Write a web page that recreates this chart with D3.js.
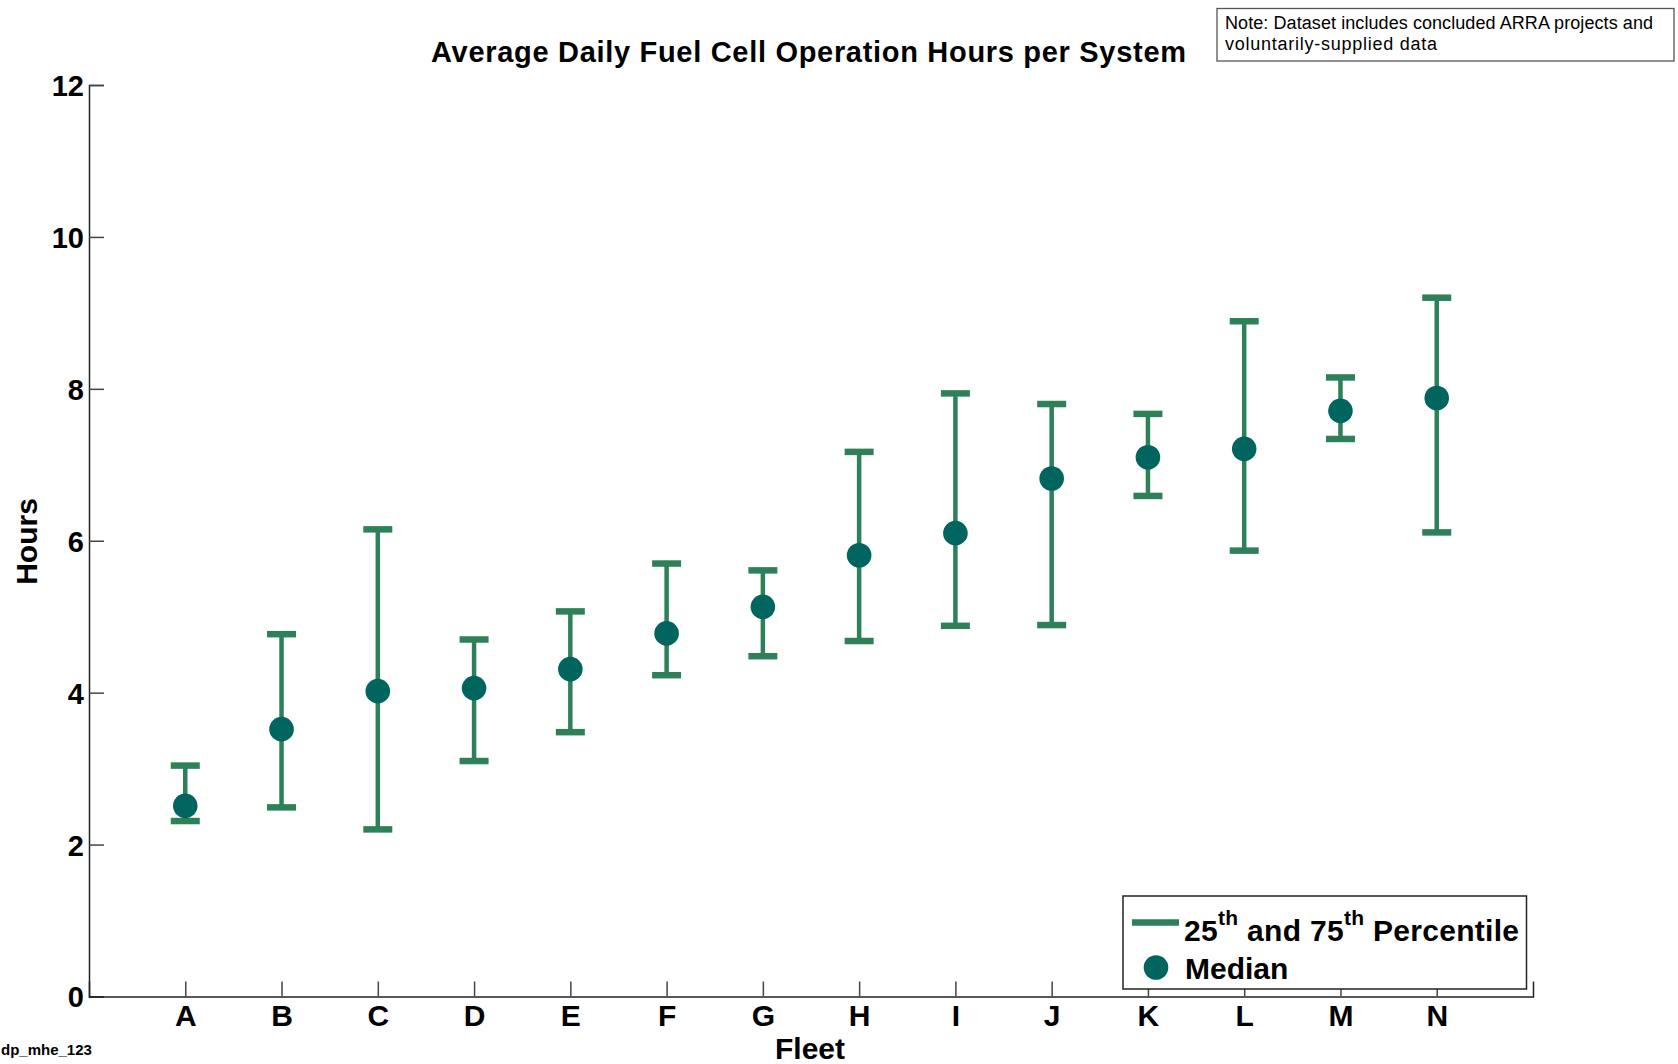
<!DOCTYPE html>
<html>
<head>
<meta charset="utf-8">
<script src="https://cdn.jsdelivr.net/npm/d3@7"></script>
<style>
  html, body { margin: 0; padding: 0; background: #fff; }
  svg { display: block; font-family: "Liberation Sans", Arial, sans-serif; }
</style>
</head>
<body>
<svg id="chart" width="1678" height="1064"></svg>
<script>
(function () {
  'use strict';

  // ── Data ──────────────────────────────────────────────────────────────────
  const fleets  = ['A', 'B', 'C', 'D', 'E', 'F', 'G', 'H', 'I', 'J', 'K', 'L', 'M', 'N'];
  const medians = [2.51, 3.52, 4.02, 4.06, 4.31, 4.78, 5.13, 5.81, 6.10, 6.82, 7.10, 7.21, 7.71, 7.88];
  const p25     = [2.31, 2.49, 2.20, 3.10, 3.48, 4.23, 4.48, 4.68, 4.88, 4.89, 6.59, 5.87, 7.34, 6.11];
  const p75     = [3.04, 4.77, 6.15, 4.70, 5.07, 5.70, 5.61, 7.17, 7.94, 7.80, 7.67, 8.89, 8.15, 9.20];
  const yTicks  = [0, 2, 4, 6, 8, 10, 12];

  const BAR = '#2e8058', DOT = '#00655f';

  const svg = d3.select('#chart');

  // ── Scales ────────────────────────────────────────────────────────────────
  const x = d3.scaleLinear().domain([0, fleets.length + 1]).range([89, 1533]);
  const y = d3.scaleLinear().domain([0, 12]).range([996.5, 85]);

  const rows = fleets.map((f, i) => ({ f, i: i + 1, med: medians[i], lo: p25[i], hi: p75[i] }));

  // ── Axes ──────────────────────────────────────────────────────────────────
  const yAxis = svg.append('g').attr('transform', `translate(${x(0)},0)`)
    .call(d3.axisLeft(y).tickValues(yTicks).tickSize(-15).tickPadding(5).tickFormat(d3.format('d')));
  const xAxis = svg.append('g').attr('transform', `translate(0,${y(0)})`)
    .call(d3.axisBottom(x).tickValues(rows.map(r => r.i)).tickSize(-15).tickPadding(8)
      .tickFormat(d => fleets[d - 1]));

  [yAxis, xAxis].forEach(a => {
    a.select('.domain').attr('stroke', '#222').attr('stroke-width', 1.5);
    a.selectAll('.tick line').attr('stroke', '#444').attr('stroke-width', 1.5);
    a.selectAll('.tick text').attr('fill', '#000').attr('font-size', 29)
      .attr('font-weight', 'bold').attr('font-family', '"Liberation Sans", Arial, sans-serif');
  });
  yAxis.selectAll('.tick text').attr('dy', '0.36em');
  xAxis.selectAll('.tick text').attr('dy', '0.72em').attr('font-size', 30);

  // ── Error bars ────────────────────────────────────────────────────────────
  const g = svg.append('g');
  const capW = 29;
  g.selectAll('line.stem').data(rows).join('line').attr('class', 'stem')
    .attr('x1', d => x(d.i)).attr('x2', d => x(d.i))
    .attr('y1', d => y(d.lo)).attr('y2', d => y(d.hi))
    .attr('stroke', BAR).attr('stroke-width', 4.5);
  ['lo', 'hi'].forEach(k => {
    g.selectAll('line.cap-' + k).data(rows).join('line').attr('class', 'cap-' + k)
      .attr('x1', d => x(d.i) - capW / 2).attr('x2', d => x(d.i) + capW / 2)
      .attr('y1', d => y(d[k])).attr('y2', d => y(d[k]))
      .attr('stroke', BAR).attr('stroke-width', 6.5);
  });
  g.selectAll('circle').data(rows).join('circle')
    .attr('cx', d => x(d.i)).attr('cy', d => y(d.med)).attr('r', 12.3)
    .attr('fill', DOT);

  // ── Titles ────────────────────────────────────────────────────────────────
  svg.append('text').attr('x', 808.5).attr('y', 61.5).attr('text-anchor', 'middle')
    .attr('font-size', 29).attr('font-weight', 'bold')
    .attr('textLength', 755).attr('lengthAdjust', 'spacing')
    .text('Average Daily Fuel Cell Operation Hours per System');

  svg.append('text').attr('transform', 'translate(36.5,541.5) rotate(-90)')
    .attr('text-anchor', 'middle').attr('font-size', 30).attr('font-weight', 'bold')
    .text('Hours');

  svg.append('text').attr('x', 810).attr('y', 1059).attr('text-anchor', 'middle')
    .attr('font-size', 30).attr('font-weight', 'bold').text('Fleet');

  svg.append('text').attr('x', 1).attr('y', 1055).attr('font-size', 15)
    .attr('font-weight', 'bold').text('dp_mhe_123');

  // ── Note box ──────────────────────────────────────────────────────────────
  svg.append('rect').attr('x', 1217).attr('y', 8.5).attr('width', 457).attr('height', 52.5)
    .attr('fill', '#fff').attr('stroke', '#555').attr('stroke-width', 1.3);
  const note = svg.append('text').attr('font-size', 18);
  note.append('tspan').attr('x', 1225).attr('y', 29).attr('textLength', 428)
    .attr('lengthAdjust', 'spacing').text('Note: Dataset includes concluded ARRA projects and');
  note.append('tspan').attr('x', 1225).attr('y', 50).attr('textLength', 212)
    .attr('lengthAdjust', 'spacing').text('voluntarily-supplied data');

  // ── Legend ────────────────────────────────────────────────────────────────
  const leg = svg.append('g');
  leg.append('rect').attr('x', 1123).attr('y', 896).attr('width', 403.5).attr('height', 93)
    .attr('fill', '#fff').attr('stroke', '#222').attr('stroke-width', 1.5);
  leg.append('line').attr('x1', 1132).attr('x2', 1179).attr('y1', 922.5).attr('y2', 922.5)
    .attr('stroke', BAR).attr('stroke-width', 6.5);
  const t1 = leg.append('text').attr('x', 1184).attr('y', 941).attr('font-size', 30)
    .attr('font-weight', 'bold').attr('letter-spacing', 0.3);
  t1.append('tspan').text('25');
  t1.append('tspan').attr('font-size', 21).attr('dy', -16).text('th');
  t1.append('tspan').attr('dy', 16).text(' and 75');
  t1.append('tspan').attr('font-size', 21).attr('dy', -16).text('th');
  t1.append('tspan').attr('dy', 16).text(' Percentile');
  leg.append('circle').attr('cx', 1156).attr('cy', 967.5).attr('r', 12.3).attr('fill', DOT);
  leg.append('text').attr('x', 1185).attr('y', 979).attr('font-size', 30).attr('font-weight', 'bold')
    .text('Median');
})();
</script>
</body>
</html>
